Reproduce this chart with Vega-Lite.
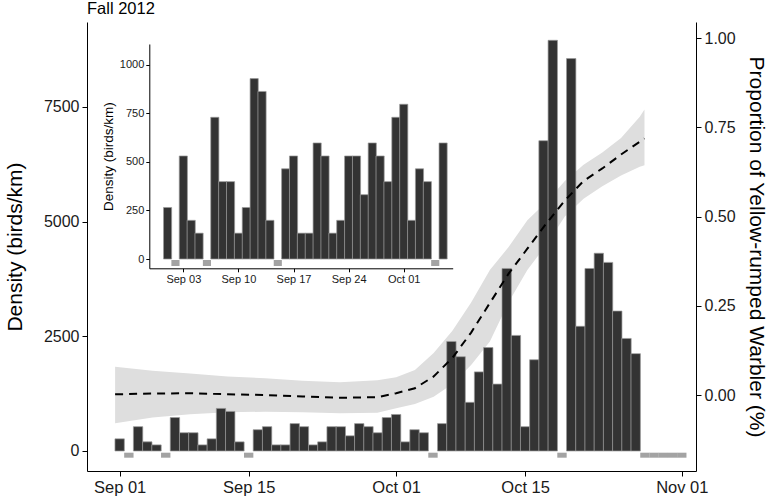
{
  "$schema": "https://vega.github.io/schema/vega-lite/v6.json",
  "width": 609,
  "height": 449,
  "autosize": "none",
  "padding": {"left": 87, "top": 22, "right": 77, "bottom": 28},
  "background": "white",
  "config": {
    "view": {"stroke": null},
    "font": "Liberation Sans",
    "axis": {
      "domainColor": "black", "domainWidth": 1, "tickColor": "black", "tickWidth": 1,
      "labelColor": "#1a1a1a", "titleColor": "black", "grid": false,
      "labelFont": "Liberation Sans", "titleFont": "Liberation Sans", "titleFontWeight": "normal"
    }
  },
  "title": {"text": "Fall 2012", "anchor": "start", "frame": "group", "fontSize": 16.5, "fontWeight": "normal", "offset": 5, "color": "black", "font": "Liberation Sans"},
  "datasets": {
    "daily": [
      {"date": "2012-09-01T00:00", "density": 265},
      {"date": "2012-09-02T00:00", "density": null},
      {"date": "2012-09-03T00:00", "density": 530},
      {"date": "2012-09-04T00:00", "density": 199},
      {"date": "2012-09-05T00:00", "density": 133},
      {"date": "2012-09-06T00:00", "density": null},
      {"date": "2012-09-07T00:00", "density": 729},
      {"date": "2012-09-08T00:00", "density": 398},
      {"date": "2012-09-09T00:00", "density": 398},
      {"date": "2012-09-10T00:00", "density": 133},
      {"date": "2012-09-11T00:00", "density": 265},
      {"date": "2012-09-12T00:00", "density": 928},
      {"date": "2012-09-13T00:00", "density": 862},
      {"date": "2012-09-14T00:00", "density": 199},
      {"date": "2012-09-15T00:00", "density": null},
      {"date": "2012-09-16T00:00", "density": 464},
      {"date": "2012-09-17T00:00", "density": 530},
      {"date": "2012-09-18T00:00", "density": 133},
      {"date": "2012-09-19T00:00", "density": 133},
      {"date": "2012-09-20T00:00", "density": 597},
      {"date": "2012-09-21T00:00", "density": 530},
      {"date": "2012-09-22T00:00", "density": 133},
      {"date": "2012-09-23T00:00", "density": 199},
      {"date": "2012-09-24T00:00", "density": 530},
      {"date": "2012-09-25T00:00", "density": 530},
      {"date": "2012-09-26T00:00", "density": 331},
      {"date": "2012-09-27T00:00", "density": 597},
      {"date": "2012-09-28T00:00", "density": 530},
      {"date": "2012-09-29T00:00", "density": 398},
      {"date": "2012-09-30T00:00", "density": 729},
      {"date": "2012-10-01T00:00", "density": 796},
      {"date": "2012-10-02T00:00", "density": 199},
      {"date": "2012-10-03T00:00", "density": 464},
      {"date": "2012-10-04T00:00", "density": 398},
      {"date": "2012-10-05T00:00", "density": null},
      {"date": "2012-10-06T00:00", "density": 597},
      {"date": "2012-10-07T00:00", "density": 2387},
      {"date": "2012-10-08T00:00", "density": 2055},
      {"date": "2012-10-09T00:00", "density": 1061},
      {"date": "2012-10-10T00:00", "density": 1724},
      {"date": "2012-10-11T00:00", "density": 2254},
      {"date": "2012-10-12T00:00", "density": 1459},
      {"date": "2012-10-13T00:00", "density": 3978},
      {"date": "2012-10-14T00:00", "density": 2519},
      {"date": "2012-10-15T00:00", "density": 530},
      {"date": "2012-10-16T00:00", "density": 1989},
      {"date": "2012-10-17T00:00", "density": 6763},
      {"date": "2012-10-18T00:00", "density": 8951},
      {"date": "2012-10-19T00:00", "density": null},
      {"date": "2012-10-20T00:00", "density": 8553},
      {"date": "2012-10-21T00:00", "density": 2718},
      {"date": "2012-10-22T00:00", "density": 3978},
      {"date": "2012-10-23T00:00", "density": 4310},
      {"date": "2012-10-24T00:00", "density": 4111},
      {"date": "2012-10-25T00:00", "density": 3050},
      {"date": "2012-10-26T00:00", "density": 2453},
      {"date": "2012-10-27T00:00", "density": 2122},
      {"date": "2012-10-28T00:00", "density": null},
      {"date": "2012-10-29T00:00", "density": null},
      {"date": "2012-10-30T00:00", "density": null},
      {"date": "2012-10-31T00:00", "density": null},
      {"date": "2012-11-01T00:00", "density": null}
    ],
    "fit": [
      {"date": "2012-09-01T00:00", "p": 0.002, "lo": -0.079, "hi": 0.079},
      {"date": "2012-09-05T00:00", "p": 0.004, "lo": -0.063, "hi": 0.068},
      {"date": "2012-09-09T00:00", "p": 0.005, "lo": -0.054, "hi": 0.060},
      {"date": "2012-09-13T00:00", "p": 0.002, "lo": -0.048, "hi": 0.052},
      {"date": "2012-09-17T00:00", "p": 0.000, "lo": -0.047, "hi": 0.047},
      {"date": "2012-09-21T00:00", "p": -0.004, "lo": -0.048, "hi": 0.040},
      {"date": "2012-09-25T00:00", "p": -0.008, "lo": -0.051, "hi": 0.036},
      {"date": "2012-09-29T00:00", "p": -0.006, "lo": -0.050, "hi": 0.041},
      {"date": "2012-10-01T00:00", "p": 0.005, "lo": -0.037, "hi": 0.050},
      {"date": "2012-10-03T00:00", "p": 0.019, "lo": -0.025, "hi": 0.070},
      {"date": "2012-10-05T00:00", "p": 0.052, "lo": -0.005, "hi": 0.118},
      {"date": "2012-10-07T00:00", "p": 0.104, "lo": 0.031, "hi": 0.180},
      {"date": "2012-10-09T00:00", "p": 0.175, "lo": 0.084, "hi": 0.259},
      {"date": "2012-10-11T00:00", "p": 0.258, "lo": 0.150, "hi": 0.350},
      {"date": "2012-10-13T00:00", "p": 0.340, "lo": 0.260, "hi": 0.415},
      {"date": "2012-10-15T00:00", "p": 0.410, "lo": 0.350, "hi": 0.490},
      {"date": "2012-10-17T00:00", "p": 0.480, "lo": 0.420, "hi": 0.540},
      {"date": "2012-10-19T00:00", "p": 0.545, "lo": 0.500, "hi": 0.600},
      {"date": "2012-10-21T00:00", "p": 0.600, "lo": 0.550, "hi": 0.645},
      {"date": "2012-10-23T00:00", "p": 0.635, "lo": 0.585, "hi": 0.680},
      {"date": "2012-10-25T00:00", "p": 0.674, "lo": 0.615, "hi": 0.720},
      {"date": "2012-10-27T00:00", "p": 0.710, "lo": 0.640, "hi": 0.780},
      {"date": "2012-10-27T12:00", "p": 0.719, "lo": 0.644, "hi": 0.800}
    ]
  },
  "layer": [
    {
      "data": {"name": "fit", "format": {"parse": {"date": "date"}}},
      "mark": {"type": "area", "color": "#dedede", "opacity": 1},
      "encoding": {
        "x": {"field": "date", "type": "temporal", "axis": null,
              "scale": {"domain": [{"year": 2012, "month": 8, "date": 29}, {"year": 2012, "month": 11, "date": 2}]}},
        "y": {"field": "lo", "type": "quantitative",
              "scale": {"domain": [-0.213, 1.0454], "nice": false, "zero": false},
              "axis": {"orient": "right", "values": [0, 0.25, 0.5, 0.75, 1], "format": ".2f",
                       "title": "Proportion of Yellow-rumped Warbler (%)", "titleFontSize": 21,
                       "labelFontSize": 16, "tickSize": 5, "labelPadding": 3, "titlePadding": 10}},
        "y2": {"field": "hi"}
      }
    },
    {
      "data": {"name": "daily", "format": {"parse": {"date": "date"}}},
      "layer": [
        {
          "transform": [{"filter": "datum.density != null"}],
          "mark": {"type": "bar", "width": 9.37, "fill": "#333333", "stroke": "#9a9a9a", "strokeWidth": 0.7},
          "encoding": {
            "x": {"field": "date", "type": "temporal",
                  "scale": {"domain": [{"year": 2012, "month": 8, "date": 29}, {"year": 2012, "month": 11, "date": 2}]},
                  "axis": {"orient": "bottom", "title": null, "format": "%b %d", "labelFontSize": 16.5, "tickSize": 5, "labelPadding": 3,
                           "values": [{"year": 2012, "month": 9, "date": 1}, {"year": 2012, "month": 9, "date": 15},
                                      {"year": 2012, "month": 10, "date": 1}, {"year": 2012, "month": 10, "date": 15},
                                      {"year": 2012, "month": 11, "date": 1}]}},
            "y": {"field": "density", "type": "quantitative",
                  "scale": {"domain": [-436, 9350], "nice": false, "zero": false},
                  "axis": {"orient": "left", "values": [0, 2500, 5000, 7500], "format": "d", "title": "Density (birds/km)",
                           "titleFontSize": 21, "labelFontSize": 16, "tickSize": 5, "labelPadding": 3, "titlePadding": 18}}
          }
        },
        {
          "transform": [{"filter": "datum.density == null"}],
          "mark": {"type": "bar", "width": 9.37, "fill": "#a3a3a3"},
          "encoding": {
            "x": {"field": "date", "type": "temporal"},
            "y": {"datum": -37},
            "y2": {"datum": -146}
          }
        }
      ]
    },
    {
      "data": {"name": "fit", "format": {"parse": {"date": "date"}}},
      "mark": {"type": "line", "color": "black", "strokeWidth": 2, "strokeDash": [8, 6]},
      "encoding": {
        "x": {"field": "date", "type": "temporal", "axis": null,
              "scale": {"domain": [{"year": 2012, "month": 8, "date": 29}, {"year": 2012, "month": 11, "date": 2}]}},
        "y": {"field": "p", "type": "quantitative", "axis": null,
              "scale": {"domain": [-0.213, 1.0454], "nice": false, "zero": false}}
      }
    },
    {
      "data": {"name": "daily", "format": {"parse": {"date": "date"}}},
      "transform": [{"filter": "datum.date <= datetime(2012, 9, 6, 12)"}],
      "layer": [
        {
          "transform": [{"filter": "datum.density != null"}],
          "mark": {"type": "bar", "width": 8.14, "fill": "#333333", "stroke": "#9a9a9a", "strokeWidth": 0.7},
          "encoding": {
            "x": {"field": "date", "type": "temporal",
                  "scale": {"domain": [{"year": 2012, "month": 8, "date": 30, "hours": 7, "minutes": 30}, {"year": 2012, "month": 10, "date": 6, "hours": 14}],
                            "range": [62.3, 365.7]},
                  "axis": {"orient": "bottom", "offset": -202.7, "title": null, "format": "%b %d", "labelFontSize": 11, "tickSize": 3.5, "labelPadding": 2,
                           "values": [{"year": 2012, "month": 9, "date": 3}, {"year": 2012, "month": 9, "date": 10},
                                      {"year": 2012, "month": 9, "date": 17}, {"year": 2012, "month": 9, "date": 24},
                                      {"year": 2012, "month": 10, "date": 1}]}},
            "y": {"field": "density", "type": "quantitative",
                  "scale": {"domain": [-47.8, 1106], "nice": false, "zero": false, "range": [246.3, 22]},
                  "axis": {"orient": "left", "offset": -62.3, "values": [0, 250, 500, 750, 1000], "format": "d", "title": "Density (birds/km)",
                           "titleFontSize": 13.5, "labelFontSize": 11, "tickSize": 3.5, "labelPadding": 2, "titlePadding": 4}}
          }
        },
        {
          "transform": [{"filter": "datum.density == null"}],
          "mark": {"type": "bar", "width": 8.14, "fill": "#a3a3a3"},
          "encoding": {
            "x": {"field": "date", "type": "temporal"},
            "y": {"datum": -5},
            "y2": {"datum": -36}
          }
        }
      ]
    }
  ],
  "resolve": {"scale": {"x": "independent", "y": "independent"}}
}
